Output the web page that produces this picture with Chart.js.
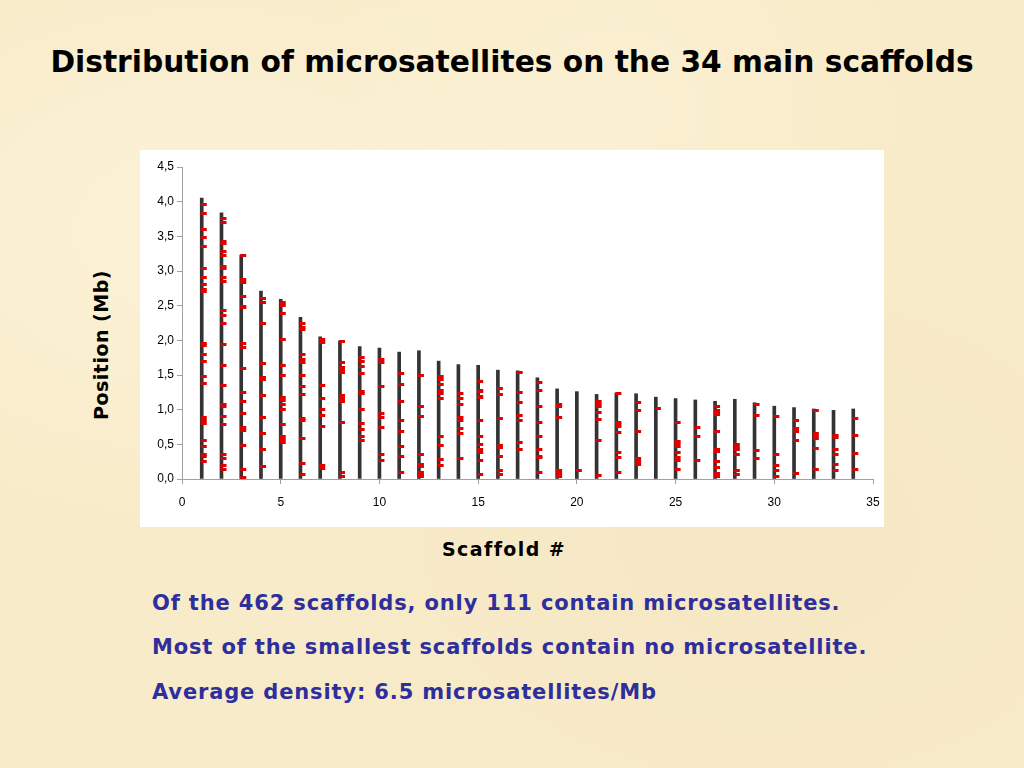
<!DOCTYPE html>
<html>
<head>
<meta charset="utf-8">
<script src="https://cdn.jsdelivr.net/npm/chart.js@4"></script>
<style>
  html, body { margin:0; padding:0; }
  body {
    width:1024px; height:768px; position:relative; overflow:hidden;
    background-color:#f8ebc9;
    background-image:
      radial-gradient(ellipse at 20% 30%, rgba(255,250,230,0.45), rgba(255,250,230,0) 40%),
      radial-gradient(ellipse at 75% 70%, rgba(240,222,185,0.3), rgba(240,222,185,0) 45%),
      radial-gradient(ellipse at 60% 15%, rgba(255,248,225,0.35), rgba(255,248,225,0) 35%);
    font-family: "DejaVu Sans", sans-serif;
  }
  #title {
    position:absolute; left:0; top:44px; width:1024px; text-align:center;
    font-weight:bold; font-size:29.7px; color:#000; white-space:nowrap;
  }
  #chartBox {
    position:absolute; left:140px; top:150px; width:744px; height:377px; background:#fff;
  }
  #ylab {
    position:absolute; left:101px; top:345px; transform:translate(-50%,-50%) rotate(-90deg);
    font-weight:bold; font-size:19px; letter-spacing:0.5px; color:#000; white-space:nowrap;
  }
  #xlab {
    position:absolute; left:504px; top:549px; transform:translate(-50%,-50%);
    font-weight:bold; font-size:19px; letter-spacing:1.4px; color:#000; white-space:nowrap;
  }
  .note {
    position:absolute; left:152px; font-weight:bold; font-size:21px; letter-spacing:0.85px; color:#2e2e9c; white-space:nowrap;
    transform:translateY(-50%);
  }
</style>
</head>
<body>
<div id="title">Distribution of microsatellites on the 34 main scaffolds</div>
<div id="chartBox"><canvas id="c" width="744" height="377"></canvas></div>
<div id="ylab">Position (Mb)</div>
<div id="xlab">Scaffold #</div>
<div class="note" style="top:603px">Of the 462 scaffolds, only 111 contain microsatellites.</div>
<div class="note" style="top:647px">Most of the smallest scaffolds contain no microsatellite.</div>
<div class="note" style="top:692px">Average density: 6.5 microsatellites/Mb</div>
<script>
// Scaffold numbers and their lengths (Mb)
const scaffolds = [1,2,3,4,5,6,7,8,9,10,11,12,13,14,15,16,17,18,19,20,21,22,23,24,25,26,27,28,29,30,31,32,33,34];
const scaffoldLengths = [4.05,3.84,3.23,2.71,2.59,2.33,2.05,1.99,1.91,1.89,1.83,1.85,1.70,1.65,1.64,1.57,1.56,1.46,1.30,1.26,1.22,1.24,1.23,1.18,1.16,1.14,1.12,1.15,1.10,1.05,1.03,1.01,0.99,1.01];

// Microsatellite positions (Mb) on each scaffold
const sat1  = [3.96,3.83,3.60,3.48,3.35,3.03,2.91,2.80,2.74,2.70,1.96,1.93,1.79,1.69,1.48,1.38,0.88,0.85,0.80,0.56,0.47,0.35,0.32,0.25];
const sat2  = [3.76,3.70,3.43,3.40,3.28,3.23,3.07,3.03,2.91,2.85,2.43,2.36,2.25,1.94,1.64,1.35,1.07,1.04,0.90,0.79,0.35,0.30,0.19,0.14];
const sat3  = [3.22,2.88,2.83,2.63,2.49,2.47,1.96,1.90,1.60,1.25,1.12,0.95,0.74,0.70,0.49,0.14,0.02];
const sat4  = [2.60,2.54,2.25,1.66,1.47,1.43,1.21,0.88,0.65,0.42,0.18];
const sat5  = [2.54,2.50,2.38,2.01,1.64,1.49,1.18,1.13,1.08,1.00,0.78,0.62,0.57,0.52];
const sat6  = [2.25,2.18,2.15,1.79,1.73,1.68,1.49,1.33,1.22,0.87,0.85,0.58,0.22,0.06];
const sat7  = [2.01,1.97,1.35,1.16,1.00,0.92,0.76,0.20,0.15];
const sat8  = [1.98,1.68,1.61,1.57,1.54,1.20,1.16,1.12,0.82,0.09,0.04];
const sat9  = [1.75,1.70,1.62,1.52,1.26,1.23,1.00,0.80,0.72,0.62,0.55];
const sat10 = [1.73,1.68,1.34,0.94,0.89,0.75,0.36,0.26];
const sat11 = [1.52,1.36,1.12,0.85,0.69,0.47,0.32,0.10];
const sat12 = [1.49,1.05,0.90,0.36,0.21,0.18,0.10,0.07,0.03];
const sat13 = [1.48,1.43,1.37,1.28,1.24,1.16,0.62,0.49,0.28,0.20];
const sat14 = [1.24,1.16,1.08,0.89,0.85,0.73,0.65,0.30];
const sat15 = [1.40,1.28,1.26,1.19,1.17,0.85,0.62,0.50,0.42,0.38,0.27,0.07];
const sat16 = [1.31,1.22,0.87,0.49,0.45,0.32,0.12,0.07];
const sat17 = [1.53,1.25,1.10,0.92,0.84,0.53,0.42];
const sat18 = [1.39,1.28,1.05,0.82,0.62,0.42,0.33,0.31,0.10];
const sat19 = [1.07,1.05,0.88,0.12,0.08,0.04];
const sat20 = [0.12];
const sat21 = [1.12,1.08,1.05,0.96,0.86,0.56,0.05];
const sat22 = [1.23,0.81,0.78,0.76,0.67,0.38,0.31,0.10];
const sat23 = [1.11,0.99,0.68,0.30,0.25,0.21];
const sat24 = [1.01];
const sat25 = [0.82,0.54,0.51,0.47,0.38,0.31,0.27,0.14];
const sat26 = [0.75,0.62,0.26];
const sat27 = [1.04,0.99,0.96,0.93,0.69,0.42,0.39,0.25,0.17,0.08,0.03];
const sat28 = [0.50,0.46,0.43,0.36,0.12,0.06];
const sat29 = [1.08,0.91,0.41,0.29];
const sat30 = [0.90,0.36,0.20,0.12,0.04];
const sat31 = [0.85,0.73,0.68,0.56,0.08];
const sat32 = [0.99,0.65,0.62,0.58,0.44,0.13];
const sat33 = [0.63,0.60,0.43,0.36,0.21,0.12];
const sat34 = [0.87,0.63,0.37,0.14];

const yTicks = ['0,0','0,5','1,0','1,5','2,0','2,5','3,0','3,5','4,0','4,5'];

const satLists = [sat1,sat2,sat3,sat4,sat5,sat6,sat7,sat8,sat9,sat10,sat11,sat12,sat13,sat14,sat15,sat16,sat17,
  sat18,sat19,sat20,sat21,sat22,sat23,sat24,sat25,sat26,sat27,sat28,sat29,sat30,sat31,sat32,sat33,sat34];

const satPoints = [];
satLists.forEach((list, i) => list.forEach(y => satPoints.push({x: scaffolds[i], y: y})));
const barPoints = scaffolds.map((s, i) => ({x: s, y: scaffoldLengths[i]}));

// small red tick mark sitting just right of the scaffold line
const mark = document.createElement('canvas');
mark.width = 12; mark.height = 3;
const mctx = mark.getContext('2d');
mctx.fillStyle = '#e00000';
mctx.fillRect(5, 0, 6, 3);

new Chart(document.getElementById('c'), {
  type: 'scatter',
  data: {
    datasets: [
      { type: 'scatter', data: satPoints, pointStyle: mark, order: 0, pointRadius: 3 },
      { type: 'bar', data: barPoints, backgroundColor: '#333333', barThickness: 3, order: 1, grouped: false }
    ]
  },
  options: {
    responsive: false,
    animation: false,
    devicePixelRatio: 1,
    layout: { padding: { left: 0, right: 11, top: 17, bottom: 0 } },
    plugins: { legend: { display: false }, tooltip: { enabled: false } },
    scales: {
      x: {
        type: 'linear', min: 0, max: 35, offset: false,
        afterFit: s => { s.height = 48; s.paddingLeft = 0; s.paddingRight = 0; },
        ticks: { stepSize: 5, padding: 11, color: '#000', font: { family: 'Liberation Sans', size: 12 }, maxRotation: 0 },
        grid: { drawOnChartArea: false, drawTicks: true, tickLength: 5, color: '#a0a0a0', offset: false },
        border: { color: '#a0a0a0', width: 1 }
      },
      y: {
        type: 'linear', min: 0, max: 4.5,
        afterFit: s => { s.width = 42; },
        ticks: { stepSize: 0.5, padding: 3, color: '#000', font: { family: 'Liberation Sans', size: 12 },
          callback: (v, i) => yTicks[Math.round(v * 2)] },
        grid: { drawOnChartArea: false, drawTicks: true, tickLength: 5, color: '#a0a0a0' },
        border: { color: '#a0a0a0', width: 1 }
      }
    }
  }
});
</script>
</body>
</html>
